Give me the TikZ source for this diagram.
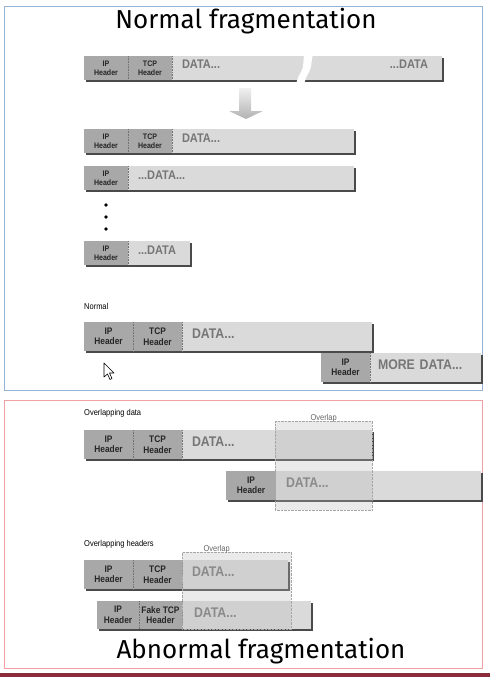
\documentclass[tikz,border=0pt]{standalone}
\usepackage{fontspec}
\setmainfont{Fira Sans}
\newfontfamily\pktfont{Liberation Sans}[FakeStretch=0.88]
\usetikzlibrary{positioning, shadows, calc}

\definecolor{hdrgray}{HTML}{A8A8A8}
\definecolor{datagray}{HTML}{DADADA}
\definecolor{datatext}{HTML}{767676}
\definecolor{shadowgray}{HTML}{4A4A4A}
\definecolor{panelblue}{HTML}{95B3D7}
\definecolor{panelred}{HTML}{F2A0A6}
\definecolor{barred}{HTML}{8C2B3C}

\begin{document}
\begin{tikzpicture}[
		x=1pt, y=-1pt,
		node distance=0pt,
		cell/.style={anchor=north west, inner sep=0pt, outer sep=0pt, drop shadow={shadow xshift=1.5pt, shadow yshift=-2pt, fill=shadowgray, opacity=1}},
		hdr/.style={cell, fill=hdrgray, text=black!85, align=center, minimum width=44pt, minimum height=24pt, font=\pktfont\bfseries\fontsize{8}{8.8}\selectfont},
		bighdr/.style={hdr, minimum width=49pt, minimum height=29pt, font=\pktfont\bfseries\fontsize{9.5}{10.5}\selectfont},
		data/.style={cell, fill=datagray, text=datatext, align=left, inner xsep=10pt, inner ysep=3pt, text height=10pt, text depth=8pt, text width=#1, font=\pktfont\bfseries\fontsize{12.5}{14}\selectfont},
		bigdata/.style={data=#1, text height=13pt, text depth=10pt, font=\pktfont\bfseries\fontsize{14}{16}\selectfont},
		sep/.style={densely dotted, black!55, line width=0.6pt},
		overlap/.style={draw=gray!70, densely dotted, fill=gray!55, fill opacity=0.3},
		caption/.style={anchor=west, inner sep=0pt, text=black, font=\pktfont\fontsize{8.5}{9.5}\selectfont},
		title/.style={anchor=base, inner sep=0pt, font=\fontsize{26}{30}\selectfont}
		]
		\useasboundingbox (0,0) rectangle (490,677);
		
		% Panels
		\draw[panelblue, line width=1pt] (4,7) rectangle (482,390);
		\draw[panelred, line width=1pt] (4,400) rectangle (482,668);
		\fill[barred] (0,673) rectangle (490,677);
		
		\node[title] (normal) at (246,29) {Normal fragmentation};
		\node[title] (abnormal) at (261,658) {Abnormal fragmentation};
		
		% Original packet
		\node[hdr] (ip1) at (84,56) {IP\\Header};
		\node[hdr, right=of ip1] (tcp1) {TCP\\Header};
		\node[data=250pt, right=of tcp1] (data1) {DATA...\hfill...DATA\hspace*{4pt}};
		\fill[white] (305,53) .. controls (302,60) and (305,66) .. (301,72) .. controls (298,77) and (297,80) .. (296,85) -- (304,85) .. controls (305,80) and (306,77) .. (309,72) .. controls (313,66) and (310,60) .. (314,53) -- cycle;
		\draw[sep] (ip1.north east) -- (ip1.south east);
		\draw[sep] (tcp1.north east) -- (tcp1.south east);
		
		% Arrow
		\shade[top color=gray!12, bottom color=gray!60] (239,88) -- (251,88) -- (251,111) -- (263,111) -- (246,119) -- (229,111) -- (239,111) -- cycle;
		
		% Fragments
		\node[hdr] (ip2) at (84,129) {IP\\Header};
		\node[hdr, right=of ip2] (tcp2) {TCP\\Header};
		\node[data=162pt, right=of tcp2] (data2) {DATA...};
		\draw[sep] (ip2.north east) -- (ip2.south east);
		\draw[sep] (tcp2.north east) -- (tcp2.south east);
		
		\node[hdr] (ip3) at (84,166) {IP\\Header};
		\node[data=206pt, right=of ip3] (data3) {...DATA...};
		\draw[sep] (ip3.north east) -- (ip3.south east);
		
		\foreach \y in {205,217,229}
			\fill (106,\y) circle (1.8);
		
		\node[hdr] (ip4) at (84,241) {IP\\Header};
		\node[data=42pt, right=of ip4] (data4) {...DATA};
		\draw[sep] (ip4.north east) -- (ip4.south east);
		
		% Normal
		\node[caption] (lblnormal) at (84,306) {Normal};
		\node[bighdr] (ip5) at (84,322) {IP\\Header};
		\node[bighdr, right=of ip5] (tcp5) {TCP\\Header};
		\node[bigdata=170pt, right=of tcp5] (data5) {DATA...};
		\draw[sep] (ip5.north east) -- (ip5.south east);
		\draw[sep] (tcp5.north east) -- (tcp5.south east);
		
		\node[bighdr] (ip6) at (321,353) {IP\\Header};
		\node[bigdata=95pt, inner xsep=8pt, right=of ip6] (data6) {MORE DATA...};
		\draw[sep] (ip6.north east) -- (ip6.south east);
		
		\draw[fill=white, line width=0.6pt, line join=round] (104,363) -- (104,377) -- (107.5,374) -- (110,379.5) -- (112,378.5) -- (109.5,373) -- (114,373) -- cycle;
		
		% Overlapping data
		\node[caption] (lbldata) at (84,413) {Overlapping data};
		\node[bighdr] (ip7) at (84,430) {IP\\Header};
		\node[bighdr, right=of ip7] (tcp7) {TCP\\Header};
		\node[bigdata=170pt, right=of tcp7] (data7) {DATA...};
		\draw[sep] (ip7.north east) -- (ip7.south east);
		\draw[sep] (tcp7.north east) -- (tcp7.south east);
		
		\node[bighdr, minimum width=50pt] (ip8) at (226,471) {IP\\Header};
		\node[bigdata=185pt, right=of ip8] (data8) {DATA...};
		
		\node[overlap, inner sep=0pt, minimum width=97pt, minimum height=89pt, anchor=north west] (ovl1) at (275,421) {};
		\node[caption, anchor=south, text=black!60] (lblovl1) at ([yshift=-1pt]ovl1.north) {Overlap};
		
		% Overlapping headers
		\node[caption] (lblhdrs) at (84,544) {Overlapping headers};
		\node[bighdr] (ip9) at (84,560) {IP\\Header};
		\node[bighdr, right=of ip9] (tcp9) {TCP\\Header};
		\node[bigdata=86pt, right=of tcp9] (data9) {DATA...};
		\draw[sep] (ip9.north east) -- (ip9.south east);
		\draw[sep] (tcp9.north east) -- (tcp9.south east);
		
		\node[bighdr, minimum width=42pt, minimum height=28pt] (ip10) at (97,601) {IP\\Header};
		\node[bighdr, minimum width=43pt, minimum height=28pt, right=of ip10] (ftcp10) {Fake TCP\\Header};
		\node[bigdata=105pt, inner xsep=12pt, text depth=9pt, right=of ftcp10] (data10) {DATA...};
		\draw[sep] (ip10.north east) -- (ip10.south east);
		\draw[sep] (ftcp10.north east) -- (ftcp10.south east);
		
		\node[overlap, inner sep=0pt, minimum width=109pt, minimum height=77pt, anchor=north west] (ovl2) at (182,552) {};
		\node[caption, anchor=south, text=black!60] (lblovl2) at ([xshift=-20pt, yshift=-1pt]ovl2.north) {Overlap};
		
	\end{tikzpicture}
\end{document}
